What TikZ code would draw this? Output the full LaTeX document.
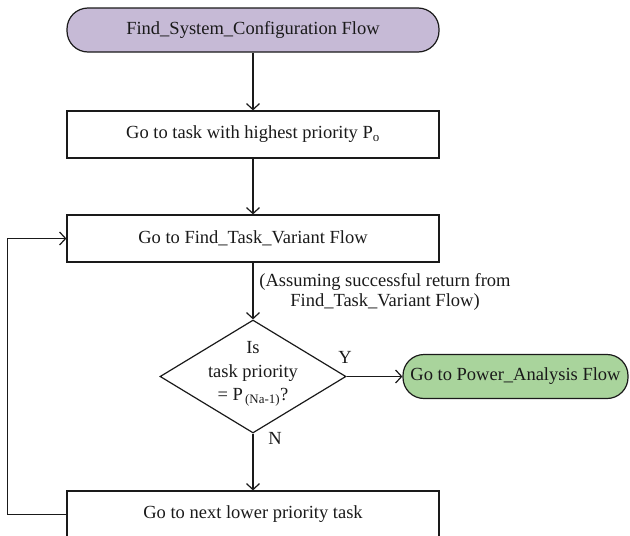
\documentclass[tikz,border=0pt]{standalone}
\usepackage{fontspec}
\setmainfont{Liberation Serif}
\usetikzlibrary{arrows.meta,shapes.geometric}
\definecolor{termpurple}{HTML}{C6BAD6}
\definecolor{termgreen}{HTML}{A9D49C}
\definecolor{inkline}{HTML}{1A1A1A}
\begin{document}
\begin{tikzpicture}[x=1pt,y=-1pt,
  font=\fontsize{18.5}{22}\selectfont,
  line width=1.2pt, draw=inkline, text=inkline,
  flow/.style={draw=inkline,-{Straight Barb[length=6pt,width=13pt,line width=1.2pt]}},
  procbox/.style={draw, minimum width=372pt, minimum height=47pt, inner sep=0pt},
  terminal/.style={draw, rounded corners=21pt, minimum height=44pt, inner sep=0pt},
  decision/.style={draw, diamond, minimum width=186pt, minimum height=113pt, inner sep=0pt},
  tag/.style={inner sep=0pt}
]
\useasboundingbox (0,0) rectangle (630,536);

% start terminal
\node[terminal, fill=termpurple, minimum width=372pt] (start) at (253,30)
  {Find\_System\_Configuration Flow};

% process steps
\node[procbox] (first) at (253,134.5)
  {Go to task with highest priority P\textsubscript{o}};
\node[procbox] (variant) at (253,238.5)
  {Go to Find\_Task\_Variant Flow};
\node[procbox] (next) at (253,514.5)
  {Go to next lower priority task};

% decision
\node[decision] (dec) at (253,376.5) {};
\node[align=center, font=\fontsize{18.5}{23.5}\selectfont] (dectext) at (253,374)
  {Is\\task priority\\= P\textsubscript{\,(Na-1)}?};

% end terminal
\node[terminal, fill=termgreen, minimum width=225pt] (power) at (515.5,376.5)
  {Go to Power\_Analysis Flow};

% annotation on the variant exit
\node[align=center, font=\fontsize{18.5}{20.5}\selectfont] (note) at (385,292)
  {(Assuming successful return from\\Find\_Task\_Variant Flow)};

% branch labels
\node[tag] (ylab) at (345,357) {Y};
\node[tag] (nlab) at (275,438) {N};

% connectors
\draw[flow] (start) -- (first);
\draw[flow] (first) -- (variant);
\draw[flow] (variant) -- (dec.north);
\draw[flow] (dec.east) -- (power.west);
\draw[flow] (dec.south) -- (next.north);
\draw[flow] (next.west) -- ([xshift=-59pt]next.west) |- (variant.west);
\end{tikzpicture}
\end{document}
